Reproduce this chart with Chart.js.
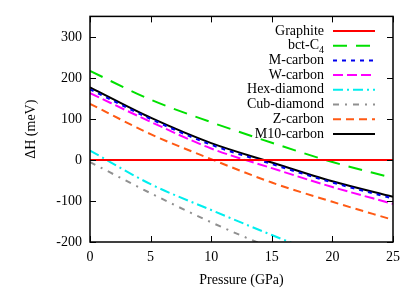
<!DOCTYPE html>
<html>
<head>
<meta charset="utf-8">
<script src="https://cdn.jsdelivr.net/npm/chart.js@4.4.0/dist/chart.umd.min.js"></script>
<style>
  html, body { margin: 0; padding: 0; background: #fff; }
  #wrap { width: 415px; height: 290px; }
</style>
</head>
<body>
<div id="wrap"><canvas id="c" width="415" height="290"></canvas></div>
<script>
'use strict';

// data (pressure in GPa, enthalpy difference in meV)
const pressure   = [0, 5, 10, 15, 20, 25];
const graphite   = [0, 0, 0, 0, 0, 0];
const bctC4      = [217, 147, 92, 42, -5, -44];
const mCarbon    = [172, 100, 37, -10, -55, -94];
const wCarbon    = [163, 93, 28, -20, -66, -107];
const hexDiamond = [23, -59, -122, -183, -240, -290];
const cubDiamond = [-5, -81, -152, -215, -270, -320];
const zCarbon    = [137, 63, 2, -55, -102, -146];
const m10Carbon  = [177, 103, 41, -6, -52, -90];

const xTicks = [0, 5, 10, 15, 20, 25];
const yTicks = [-200, -100, 0, 100, 200, 300];

const xTitle = 'Pressure (GPa)';
const yTitle = 'ΔH (meV)';

const FONT = 'Liberation Serif, Times New Roman, serif';

function series(label, values, color, dash, width) {
    return {
        label: label,
        data: values.map((v, i) => ({ x: pressure[i], y: v })),
        borderColor: color,
        backgroundColor: color,
        borderDash: dash,
        borderWidth: width || 2,
        pointRadius: 0,
        cubicInterpolationMode: 'monotone',
        fill: false
    };
}

const datasets = [
    series('Graphite', graphite, '#ff0000', []),
    series('bct-C4', bctC4, '#00e000', [14, 9]),
    series('M-carbon', mCarbon, '#0000ee', [4, 5]),
    series('W-carbon', wCarbon, '#ff00ff', [10, 4]),
    series('Hex-diamond', hexDiamond, '#00eeee', [10, 4, 2, 4]),
    series('Cub-diamond', cubDiamond, '#909090', [6, 6, 2, 6]),
    series('Z-carbon', zCarbon, '#ff5a14', [8, 5]),
    series('M10-carbon', m10Carbon, '#000000', [])
];

// gnuplot-like frame with inward ticks on all four sides, plus axis titles
const framePlugin = {
    id: 'frame',
    afterDatasetsDraw(chart) {
        const { ctx, chartArea: a, scales } = chart;
        ctx.save();
        ctx.strokeStyle = '#000';
        ctx.lineWidth = 1.5;
        ctx.setLineDash([]);
        ctx.strokeRect(a.left, a.top, a.right - a.left, a.bottom - a.top);
        ctx.lineWidth = 1;
        ctx.beginPath();
        xTicks.forEach(v => {
            const x = Math.round(scales.x.getPixelForValue(v)) + 0.5;
            ctx.moveTo(x, a.bottom); ctx.lineTo(x, a.bottom - 6);
            ctx.moveTo(x, a.top); ctx.lineTo(x, a.top + 6);
        });
        yTicks.forEach(v => {
            const y = Math.round(scales.y.getPixelForValue(v)) + 0.5;
            ctx.moveTo(a.left, y); ctx.lineTo(a.left + 6, y);
            ctx.moveTo(a.right, y); ctx.lineTo(a.right - 6, y);
        });
        ctx.stroke();

        ctx.fillStyle = '#000';
        ctx.font = '14px ' + FONT;
        ctx.textAlign = 'center';
        ctx.textBaseline = 'middle';
        ctx.fillText(xTitle, (a.left + a.right) / 2, 280);
        ctx.translate(31, (a.top + a.bottom) / 2);
        ctx.rotate(-Math.PI / 2);
        ctx.fillText(yTitle, 0, 0);
        ctx.restore();
    }
};

// key inside the plot, text right-aligned with the line sample on its right
const keyPlugin = {
    id: 'key',
    afterDraw(chart) {
        const { ctx } = chart;
        const textRight = 324, x0 = 333, x1 = 375;
        let y = 31;
        ctx.save();
        ctx.font = '14px ' + FONT;
        ctx.textBaseline = 'middle';
        chart.data.datasets.forEach(ds => {
            let label = ds.label, sub = null;
            if (label === 'bct-C4') { label = 'bct-C'; sub = '4'; }
            ctx.fillStyle = '#000';
            ctx.textAlign = 'right';
            if (sub) {
                ctx.font = '10px ' + FONT;
                const sw = ctx.measureText(sub).width;
                ctx.fillText(sub, textRight, y + 5);
                ctx.font = '14px ' + FONT;
                ctx.fillText(label, textRight - sw, y);
            } else {
                ctx.fillText(label, textRight, y);
            }
            ctx.strokeStyle = ds.borderColor;
            ctx.lineWidth = ds.borderWidth;
            ctx.setLineDash(ds.borderDash);
            ctx.beginPath();
            ctx.moveTo(x0, y); ctx.lineTo(x1, y);
            ctx.stroke();
            y += 14.7;
        });
        ctx.restore();
    }
};

new Chart(document.getElementById('c').getContext('2d'), {
    type: 'line',
    data: { datasets: datasets },
    options: {
        responsive: false,
        animation: false,
        layout: { padding: { top: 16, right: 22, left: 0, bottom: 0 } },
        plugins: {
            legend: { display: false },
            tooltip: { enabled: false }
        },
        scales: {
            x: {
                type: 'linear',
                min: 0, max: 25,
                afterBuildTicks: s => { s.ticks = xTicks.map(v => ({ value: v })); },
                afterFit: s => { s.height = 48; },
                grid: { display: false, drawTicks: false },
                border: { display: false },
                ticks: { color: '#000', padding: 7, maxRotation: 0, font: { family: FONT, size: 14 } }
            },
            y: {
                type: 'linear',
                min: -200, max: 350,
                afterBuildTicks: s => { s.ticks = yTicks.map(v => ({ value: v })); },
                afterFit: s => { s.width = 90; },
                grid: { display: false, drawTicks: false },
                border: { display: false },
                ticks: { color: '#000', padding: 8, font: { family: FONT, size: 14 } }
            }
        }
    },
    plugins: [framePlugin, keyPlugin]
});
</script>
</body>
</html>
